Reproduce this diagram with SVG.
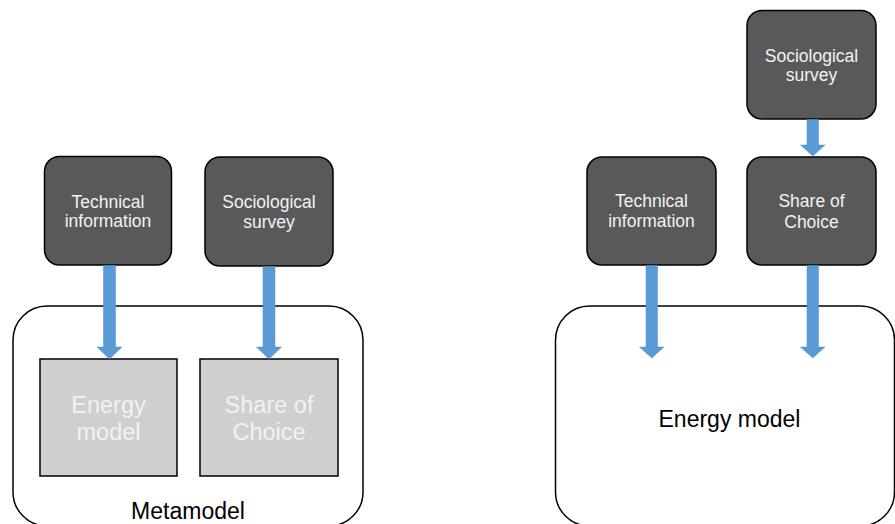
<svg xmlns="http://www.w3.org/2000/svg" width="895" height="524" viewBox="0 0 895 524">
<style>
.outer{fill:#ffffff;stroke:#000000;stroke-width:1.5}
.dark{fill:#595959;stroke:#000000;stroke-width:1.5}
.gray{fill:#d0cece;stroke:#000000;stroke-width:1.5}
.dt{font-family:"Liberation Sans",Arial,sans-serif;font-size:17.5px;fill:#f2f2f2;text-anchor:middle}
.gt{font-family:"Liberation Sans",Arial,sans-serif;font-size:23.5px;fill:#f2f2f2;text-anchor:middle}
.bt{font-family:"Liberation Sans",Arial,sans-serif;font-size:23px;fill:#000000;text-anchor:middle}
.arr{fill:#5b9bd5;stroke:#5290c8;stroke-width:0.5}
</style>
<rect width="895" height="524" fill="#ffffff"/>
<g id="metamodel">
<rect class="outer" x="13" y="306" width="350" height="220" rx="34" ry="34"/>
<text class="bt" x="188" y="519">Metamodel</text>
</g>
<g id="energy-model-right">
<rect class="outer" x="555.5" y="306" width="339" height="220" rx="34" ry="34"/>
<text class="bt" x="729.5" y="427">Energy model</text>
</g>
<g id="energy-model-left">
<rect class="gray" x="40" y="359" width="137" height="117"/>
<text class="gt" x="108.5" y="413">Energy</text>
<text class="gt" x="108.5" y="440">model</text>
</g>
<g id="share-of-choice-left">
<rect class="gray" x="200" y="359" width="138" height="117"/>
<text class="gt" x="269" y="413">Share of</text>
<text class="gt" x="269" y="440">Choice</text>
</g>
<g id="technical-info-left">
<rect class="dark" x="44.5" y="156.5" width="127" height="108.5" rx="15" ry="15"/>
<text class="dt" x="108" y="208">Technical</text>
<text class="dt" x="108" y="227">information</text>
</g>
<g id="sociological-survey-left">
<rect class="dark" x="205" y="157" width="128" height="109" rx="15" ry="15"/>
<text class="dt" x="269" y="208">Sociological</text>
<text class="dt" x="269" y="228">survey</text>
</g>
<g id="sociological-survey-right">
<rect class="dark" x="747" y="10.5" width="129" height="108.5" rx="15" ry="15"/>
<text class="dt" x="811.5" y="62">Sociological</text>
<text class="dt" x="811.5" y="81">survey</text>
</g>
<g id="technical-info-right">
<rect class="dark" x="587" y="157" width="129" height="108" rx="15" ry="15"/>
<text class="dt" x="651.5" y="207">Technical</text>
<text class="dt" x="651.5" y="227">information</text>
</g>
<g id="share-of-choice-right">
<rect class="dark" x="747" y="157" width="129" height="108" rx="15" ry="15"/>
<text class="dt" x="811.5" y="207">Share of</text>
<text class="dt" x="811.5" y="228">Choice</text>
</g>
<g id="connectors">
<polygon class="arr" points="103.5,265.5 115.5,265.5 115.5,347 122,347 109.5,359 97,347 103.5,347"/>
<polygon class="arr" points="263,266.5 275,266.5 275,347 281.5,347 269,359 256.5,347 263,347"/>
<polygon class="arr" points="646,265.5 657.5,265.5 657.5,347 664,347 651.8,358 639.5,347 646,347"/>
<polygon class="arr" points="807,265.5 818.5,265.5 818.5,347 825,347 812.8,358 800.5,347 807,347"/>
<polygon class="arr" points="807,119.5 818.5,119.5 818.5,145 825,145 812.8,156 800.5,145 807,145"/>
</g>
</svg>
